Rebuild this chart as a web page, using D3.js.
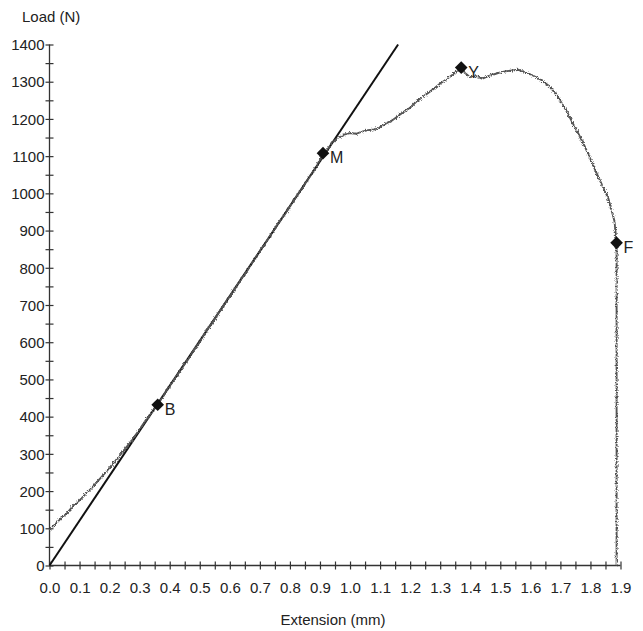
<!DOCTYPE html>
<html lang="en">
<head>
  <meta charset="UTF-8">
  <title>load extension</title>
  <style>
    body { margin: 0; background: #fff; }
    text { font-family: "Liberation Sans", Arial, sans-serif; fill: #222; }
  </style>
</head>
<body>
  <script src="https://cdn.jsdelivr.net/npm/d3@7"></script>
  <script type="text/javascript">
    // extension (mm) and load (N)
    var extension = [0.00, 0.02, 0.04, 0.06, 0.08, 0.10, 0.12, 0.14, 0.16, 0.18,
                     0.20, 0.22, 0.24, 0.26, 0.28, 0.30, 0.32, 0.34, 0.36, 0.38,
                     0.40, 0.42, 0.44, 0.46, 0.48, 0.50, 0.52, 0.54, 0.56, 0.58,
                     0.60, 0.62, 0.64, 0.66, 0.68, 0.70, 0.72, 0.74, 0.76, 0.78,
                     0.80, 0.82, 0.84, 0.86, 0.88, 0.90, 0.92, 0.94, 0.96, 0.98,
                     1.00, 1.02, 1.04, 1.06, 1.08, 1.10, 1.12, 1.14, 1.16, 1.18,
                     1.20, 1.22, 1.24, 1.26, 1.28, 1.30, 1.32, 1.34, 1.36, 1.37,
                     1.38, 1.40, 1.42, 1.44, 1.46, 1.48, 1.50, 1.52, 1.54, 1.56,
                     1.58, 1.60, 1.62, 1.64, 1.66, 1.68, 1.70, 1.72, 1.74, 1.76,
                     1.78, 1.80, 1.82, 1.84, 1.86, 1.87, 1.88, 1.887, 1.887];
    var load = [95, 112, 128, 142, 162, 175, 192, 208, 226, 244,
                263, 282, 302, 322, 343, 366, 390, 412, 434, 456,
                482, 505, 530, 552, 578, 600, 628, 650, 676, 700,
                722, 748, 772, 795, 820, 845, 868, 893, 918, 940,
                965, 990, 1012, 1038, 1062, 1090, 1112, 1135, 1150, 1158,
                1162, 1160, 1166, 1170, 1172, 1178, 1188, 1196, 1208, 1220,
                1230, 1246, 1258, 1270, 1282, 1295, 1306, 1318, 1332, 1338,
                1325, 1312, 1315, 1308, 1315, 1320, 1325, 1328, 1330, 1332,
                1326, 1320, 1312, 1302, 1290, 1272, 1248, 1222, 1190, 1160,
                1128, 1092, 1055, 1020, 985, 955, 925, 867, 0];

    // tangent (modulus) line
    var tangentX = [0, 1.16];
    var tangentY = [0, 1400];

    // marked points
    var pointNames = ["B", "M", "Y", "F"];
    var pointX = [0.36, 0.91, 1.37, 1.887];
    var pointY = [432, 1108, 1338, 867];

    var width = 643;
    var height = 631;
    var svg = d3.select("body")
      .append("svg")
      .attr("width", width)
      .attr("height", height);

    var x = d3.scaleLinear().domain([0, 1.9]).range([49.5, 620.5]);
    var y = d3.scaleLinear().domain([0, 1400]).range([565.5, 44.5]);

    // rough edge for the recorded trace
    var defs = svg.append("defs");
    var filt = defs.append("filter").attr("id", "rough")
      .attr("x", "-5%").attr("y", "-5%").attr("width", "110%").attr("height", "110%");
    filt.append("feTurbulence").attr("type", "fractalNoise")
      .attr("baseFrequency", 0.8).attr("numOctaves", 2).attr("seed", 3).attr("result", "n");
    filt.append("feDisplacementMap").attr("in", "SourceGraphic").attr("in2", "n")
      .attr("scale", 4).attr("xChannelSelector", "R").attr("yChannelSelector", "G");

    // axes: ticks cross the axis line
    var yAxis = d3.axisLeft(y)
      .tickValues(d3.range(0, 1401, 50))
      .tickSize(4)
      .tickFormat(function(d){ return d % 100 === 0 ? d : ""; });
    var gy = svg.append("g").attr("transform", "translate(49.5,0)").call(yAxis);

    var xAxis = d3.axisBottom(x)
      .tickValues(d3.range(0, 39).map(function(i){ return i * 0.05; }))
      .tickSize(4)
      .tickFormat(function(d){ var r = Math.round(d * 100); return r % 10 === 0 ? d3.format(".1f")(d) : ""; });
    var gx = svg.append("g").attr("transform", "translate(0,565.5)").call(xAxis);

    [gy, gx].forEach(function(g){
      g.select(".domain").attr("stroke", "#333").attr("stroke-width", 1.3);
      g.selectAll(".tick line").attr("stroke", "#333").attr("stroke-width", 1.2);
      g.selectAll(".tick text").attr("font-size", "15px")
        .attr("font-family", "'Liberation Sans', Arial, sans-serif").attr("fill", "#1a1a1a");
    });
    gy.selectAll(".tick line").attr("x1", 4);
    gy.selectAll(".tick text").attr("x", -5).attr("dy", "0.35em");
    gx.selectAll(".tick line").attr("y1", -4);
    gx.selectAll(".tick text").attr("y", 17).attr("dy", "0.71em");
    gy.select(".domain").attr("d", "M0," + y(0) + "V" + y(1400));
    gx.select(".domain").attr("d", "M" + x(0) + ",0H" + x(1.9));

    // axis titles
    svg.append("text").attr("x", 22).attr("y", 22)
      .attr("font-size", "15px").text("Load (N)");
    svg.append("text").attr("x", 333).attr("y", 625)
      .attr("text-anchor", "middle").attr("font-size", "15px").text("Extension (mm)");

    // tangent line
    svg.append("line")
      .attr("x1", x(tangentX[0])).attr("y1", y(tangentY[0]))
      .attr("x2", x(tangentX[1])).attr("y2", y(tangentY[1]))
      .attr("stroke", "#111").attr("stroke-width", 2);

    // test trace
    var curve = extension.map(function(d, i){ return [d, load[i]]; });
    var line = d3.line()
      .x(function(d){ return x(d[0]); })
      .y(function(d){ return y(d[1]); });
    svg.append("path")
      .datum(curve)
      .attr("d", line)
      .attr("fill", "none")
      .attr("stroke", "#555")
      .attr("stroke-width", 1.9)
      .attr("filter", "url(#rough)");

    // markers: filled diamonds
    var pts = pointNames.map(function(n, i){ return {name: n, x: pointX[i], y: pointY[i]}; });
    svg.selectAll("path.mark")
      .data(pts)
      .enter()
      .append("path")
      .attr("class", "mark")
      .attr("d", d3.symbol().type(d3.symbolSquare).size(80))
      .attr("transform", function(d){ return "translate(" + x(d.x) + "," + y(d.y) + ") rotate(45)"; })
      .attr("fill", "#111");
    svg.selectAll("text.lab")
      .data(pts)
      .enter()
      .append("text")
      .attr("class", "lab")
      .attr("x", function(d){ return x(d.x) + 7; })
      .attr("y", function(d){ return y(d.y) + 10; })
      .attr("font-size", "16px")
      .text(function(d){ return d.name; });
  </script>
</body>
</html>
